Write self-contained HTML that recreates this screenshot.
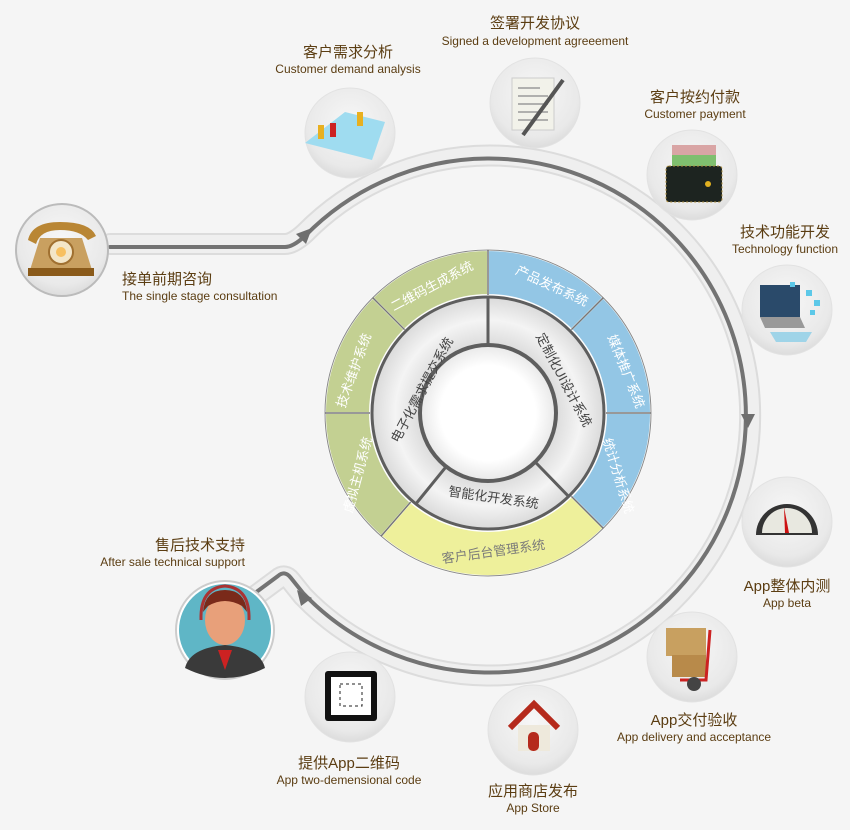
<!DOCTYPE html>
<html><head><meta charset="utf-8"><style>
html,body{margin:0;padding:0;background:#f5f5f5;}
svg{display:block;}
.zh{font-family:"Liberation Sans","Noto Sans CJK SC",sans-serif;font-size:15px;fill:#5b3d12;text-anchor:middle;}
.en{font-family:"Liberation Sans","Noto Sans CJK SC",sans-serif;font-size:12px;fill:#5b3d12;text-anchor:middle;}
.sw{font-family:"Liberation Sans","Noto Sans CJK SC",sans-serif;font-size:13px;fill:#fff;text-anchor:middle;}
.sg{font-family:"Liberation Sans","Noto Sans CJK SC",sans-serif;font-size:13px;fill:#444;text-anchor:middle;}
</style></head><body>
<svg width="850" height="830" viewBox="0 0 850 830" xmlns="http://www.w3.org/2000/svg">
<defs>
<radialGradient id="nd" cx="50%" cy="40%" r="60%"><stop offset="0" stop-color="#f7f7f7"/><stop offset="0.8" stop-color="#e9e9e9"/><stop offset="1" stop-color="#dcdcdc"/></radialGradient>
<radialGradient id="gr" cx="50%" cy="50%" r="50%"><stop offset="0.55" stop-color="#d8d8d8"/><stop offset="0.8" stop-color="#f4f4f4"/><stop offset="1" stop-color="#dadada"/></radialGradient>
<radialGradient id="wc" cx="50%" cy="50%" r="50%"><stop offset="0.7" stop-color="#ffffff"/><stop offset="1" stop-color="#e8e8e8"/></radialGradient>
</defs>
<rect width="850" height="830" fill="#f5f5f5"/>

<!-- big path band -->
<g fill="none" stroke-linecap="round" stroke-linejoin="round">
<path d="M 110 244 L 285 244 Q 293 244 305 233 A 260 260 0 1 1 303 596 L 291 581 Q 285 573 278 579 L 255 596" stroke="#dcdcdc" stroke-width="22"/>
<path d="M 110 244 L 285 244 Q 293 244 305 233 A 260 260 0 1 1 303 596 L 291 581 Q 285 573 278 579 L 255 596" stroke="#efefef" stroke-width="18"/>
<path d="M 110 247 L 285 247 Q 293 247 305 236 A 257 257 0 1 1 303 593 L 291 578 Q 285 570 278 576 L 255 593" stroke="#737373" stroke-width="4"/>
</g>
<!-- arrows -->
<polygon points="312,228 296,234 306,244" fill="#6e6e6e"/>
<polygon points="741,414 755,414 748,428" fill="#6e6e6e"/>
<polygon points="297,590 312,598 301,606" fill="#6e6e6e"/>

<!-- donut outer segments -->
<g stroke="#fdfdfd" stroke-width="2">
<path d="M488,250 A163,163 0 0 1 603.3,297.7 L571.4,329.6 A118,118 0 0 0 488,295 Z" fill="#93c6e5"/>
<path d="M603.3,297.7 A163,163 0 0 1 651,413 L606,413 A118,118 0 0 0 571.4,329.6 Z" fill="#93c6e5"/>
<path d="M651,413 A163,163 0 0 1 603.3,528.3 L571.4,496.4 A118,118 0 0 0 606,413 Z" fill="#93c6e5"/>
<path d="M603.3,528.3 A163,163 0 0 1 381.1,536.1 L410.6,502.1 A118,118 0 0 0 571.4,496.4 Z" fill="#eef09b"/>
<path d="M381.1,536.1 A163,163 0 0 1 325,413 L370,413 A118,118 0 0 0 410.6,502.1 Z" fill="#c3d092"/>
<path d="M325,413 A163,163 0 0 1 372.7,297.7 L404.6,329.6 A118,118 0 0 0 370,413 Z" fill="#c3d092"/>
<path d="M372.7,297.7 A163,163 0 0 1 488,250 L488,295 A118,118 0 0 0 404.6,329.6 Z" fill="#c3d092"/>
</g>
<circle cx="488" cy="413" r="163" fill="none" stroke="#8a8a8a" stroke-width="1"/>
<g stroke="#777" stroke-width="1.5">
<line x1="488" y1="250" x2="488" y2="295"/><line x1="603.3" y1="297.7" x2="571.4" y2="329.6"/>
<line x1="651" y1="413" x2="606" y2="413"/><line x1="603.3" y1="528.3" x2="571.4" y2="496.4"/>
<line x1="381.1" y1="536.1" x2="410.6" y2="502.1"/><line x1="325" y1="413" x2="370" y2="413"/>
<line x1="372.7" y1="297.7" x2="404.6" y2="329.6"/>
</g>
<!-- inner grey ring -->
<circle cx="488" cy="413" r="116" fill="url(#gr)" stroke="#5e5e5e" stroke-width="3"/>
<circle cx="488" cy="413" r="68" fill="url(#wc)" stroke="#5e5e5e" stroke-width="4"/>
<g stroke="#5e5e5e" stroke-width="3">
<line x1="488" y1="297" x2="488" y2="345"/>
<line x1="568.6" y1="496.4" x2="535.2" y2="462"/>
<line x1="416.6" y1="503" x2="446.2" y2="466.6"/>
</g>

<!-- segment labels -->
<text class="sw" transform="translate(434,290) rotate(-28)">二维码生成系统</text>
<text class="sw" transform="translate(550,290) rotate(25)">产品发布系统</text>
<text class="sw" transform="translate(622,373) rotate(68)">媒体推广系统</text>
<text class="sw" transform="translate(614,477) rotate(73)">统计分析系统</text>
<text class="sg" fill="#777" style="fill:#7a7a7a" transform="translate(494,556) rotate(-8)">客户后台管理系统</text>
<text class="sw" transform="translate(362,476) rotate(-75)">虚拟主机系统</text>
<text class="sw" transform="translate(358,372) rotate(-70)">技术维护系统</text>
<text class="sg" transform="translate(426,392) rotate(-62)">电子化需求提交系统</text>
<text class="sg" transform="translate(560,382) rotate(62)">定制化UI设计系统</text>
<text class="sg" transform="translate(493,502) rotate(8)">智能化开发系统</text>

<!-- node circles -->
<g fill="url(#nd)" stroke="#e2e2e2" stroke-width="1">
<circle cx="62" cy="250" r="46"/>
<circle cx="350" cy="133" r="45"/>
<circle cx="535" cy="103" r="45"/>
<circle cx="692" cy="175" r="45"/>
<circle cx="787" cy="310" r="45"/>
<circle cx="787" cy="522" r="45"/>
<circle cx="692" cy="657" r="45"/>
<circle cx="533" cy="730" r="45"/>
<circle cx="350" cy="697" r="45"/>
</g>
<circle cx="62" cy="250" r="46" fill="none" stroke="#bbb" stroke-width="2"/>
<!-- headset person -->
<circle cx="225" cy="630" r="49" fill="#fff" stroke="#ccc" stroke-width="2"/>
<circle cx="225" cy="630" r="46" fill="#5fb6c6"/>
<path d="M185,668 Q190,648 225,645 Q260,648 265,668 Q245,678 225,678 Q205,678 185,668Z" fill="#3a3a3a"/>
<path d="M218,650 L225,670 L232,650Z" fill="#c22"/>
<ellipse cx="225" cy="620" rx="20" ry="25" fill="#e8a07a"/>
<path d="M203,612 Q205,590 225,590 Q245,590 247,612 L242,606 Q225,596 208,606Z" fill="#7a2a1a"/>
<path d="M201,620 Q200,588 225,586 Q250,588 249,620" fill="none" stroke="#a33" stroke-width="3"/>

<!-- icons -->
<!-- phone -->
<path d="M30,270 L40,238 L82,238 L92,270Z" fill="#c9a060"/>
<rect x="28" y="268" width="66" height="8" fill="#8a5a1a"/>
<circle cx="61" cy="252" r="12" fill="#f3e6c8" stroke="#a07030" stroke-width="2"/>
<circle cx="61" cy="252" r="5" fill="#f7c060"/>
<path d="M28,240 Q32,222 60,222 Q90,222 96,236 L88,240 Q80,230 60,230 Q40,230 36,244Z" fill="#b98634"/>
<!-- demand map -->
<path d="M305,143 L345,112 L385,122 L372,160 Z" fill="#9fdcf0"/>
<rect x="318" y="125" width="6" height="14" fill="#e8b020"/><rect x="330" y="123" width="6" height="14" fill="#c22"/><rect x="357" y="112" width="6" height="14" fill="#e8b020"/>
<!-- document -->
<rect x="512" y="78" width="42" height="52" fill="#f2f2ea" stroke="#ccc"/>
<g stroke="#999" stroke-width="1.5"><line x1="518" y1="88" x2="540" y2="88"/><line x1="518" y1="96" x2="548" y2="96"/><line x1="518" y1="104" x2="548" y2="104"/><line x1="518" y1="112" x2="548" y2="112"/><line x1="518" y1="120" x2="548" y2="120"/></g>
<line x1="523" y1="135" x2="563" y2="80" stroke="#555" stroke-width="4"/>
<!-- wallet -->
<rect x="672" y="145" width="44" height="20" fill="#d9a5a5"/><rect x="672" y="155" width="44" height="14" fill="#7fbf6f"/>
<rect x="666" y="166" width="56" height="36" rx="3" fill="#1d2420" stroke="#b09040" stroke-dasharray="2,2"/>
<circle cx="708" cy="184" r="3" fill="#e0b020"/>
<!-- computer -->
<rect x="760" y="285" width="40" height="32" fill="#2a4a6a"/>
<path d="M760,317 L800,317 L805,328 L765,328Z" fill="#999"/>
<path d="M770,332 L812,332 L806,342 L776,342Z" fill="#9fd4e8"/>
<g fill="#5cc8e8"><rect x="806" y="290" width="6" height="6"/><rect x="814" y="300" width="6" height="6"/><rect x="810" y="310" width="5" height="5"/><rect x="790" y="282" width="5" height="5"/></g>
<!-- gauge -->
<path d="M756,535 A31,31 0 0 1 818,535 Z" fill="#333"/>
<path d="M762,533 A25,25 0 0 1 812,533 Z" fill="#e8e8e0"/>
<polygon points="785,533 789,533 784,507" fill="#c11"/>
<!-- cart boxes -->
<rect x="666" y="628" width="40" height="28" fill="#c8a060"/><rect x="672" y="655" width="34" height="22" fill="#b88a4a"/>
<path d="M710,630 L706,680 L680,680" fill="none" stroke="#c22" stroke-width="3"/>
<circle cx="694" cy="684" r="7" fill="#444"/>
<!-- house -->
<rect x="518" y="725" width="32" height="26" fill="#eee9dc"/>
<path d="M510,728 L534,704 L558,728" fill="none" stroke="#b52a1c" stroke-width="6"/>
<rect x="528" y="732" width="11" height="19" rx="5" fill="#b52a1c"/>
<!-- QR -->
<rect x="325" y="671" width="52" height="50" rx="3" fill="#111"/>
<rect x="331" y="677" width="40" height="38" fill="#fff"/>
<rect x="340" y="684" width="22" height="22" fill="#fff" stroke="#222" stroke-width="1" stroke-dasharray="3,3"/>

<!-- labels -->
<text class="zh" x="122" y="284" style="text-anchor:start">接单前期咨询</text>
<text class="en" x="122" y="300" style="text-anchor:start">The single stage consultation</text>
<text class="zh" x="348" y="57">客户需求分析</text>
<text class="en" x="348" y="73">Customer demand analysis</text>
<text class="zh" x="535" y="28">签署开发协议</text>
<text class="en" x="535" y="45">Signed a development agreeement</text>
<text class="zh" x="695" y="102">客户按约付款</text>
<text class="en" x="695" y="118">Customer payment</text>
<text class="zh" x="785" y="237">技术功能开发</text>
<text class="en" x="785" y="253">Technology function</text>
<text class="zh" x="787" y="591">App整体内测</text>
<text class="en" x="787" y="607">App beta</text>
<text class="zh" x="694" y="725">App交付验收</text>
<text class="en" x="694" y="741">App delivery and acceptance</text>
<text class="zh" x="533" y="796">应用商店发布</text>
<text class="en" x="533" y="812">App Store</text>
<text class="zh" x="349" y="768">提供App二维码</text>
<text class="en" x="349" y="784">App two-demensional code</text>
<text class="zh" x="245" y="550" style="text-anchor:end">售后技术支持</text>
<text class="en" x="245" y="566" style="text-anchor:end">After sale technical support</text>
</svg>
</body></html>
